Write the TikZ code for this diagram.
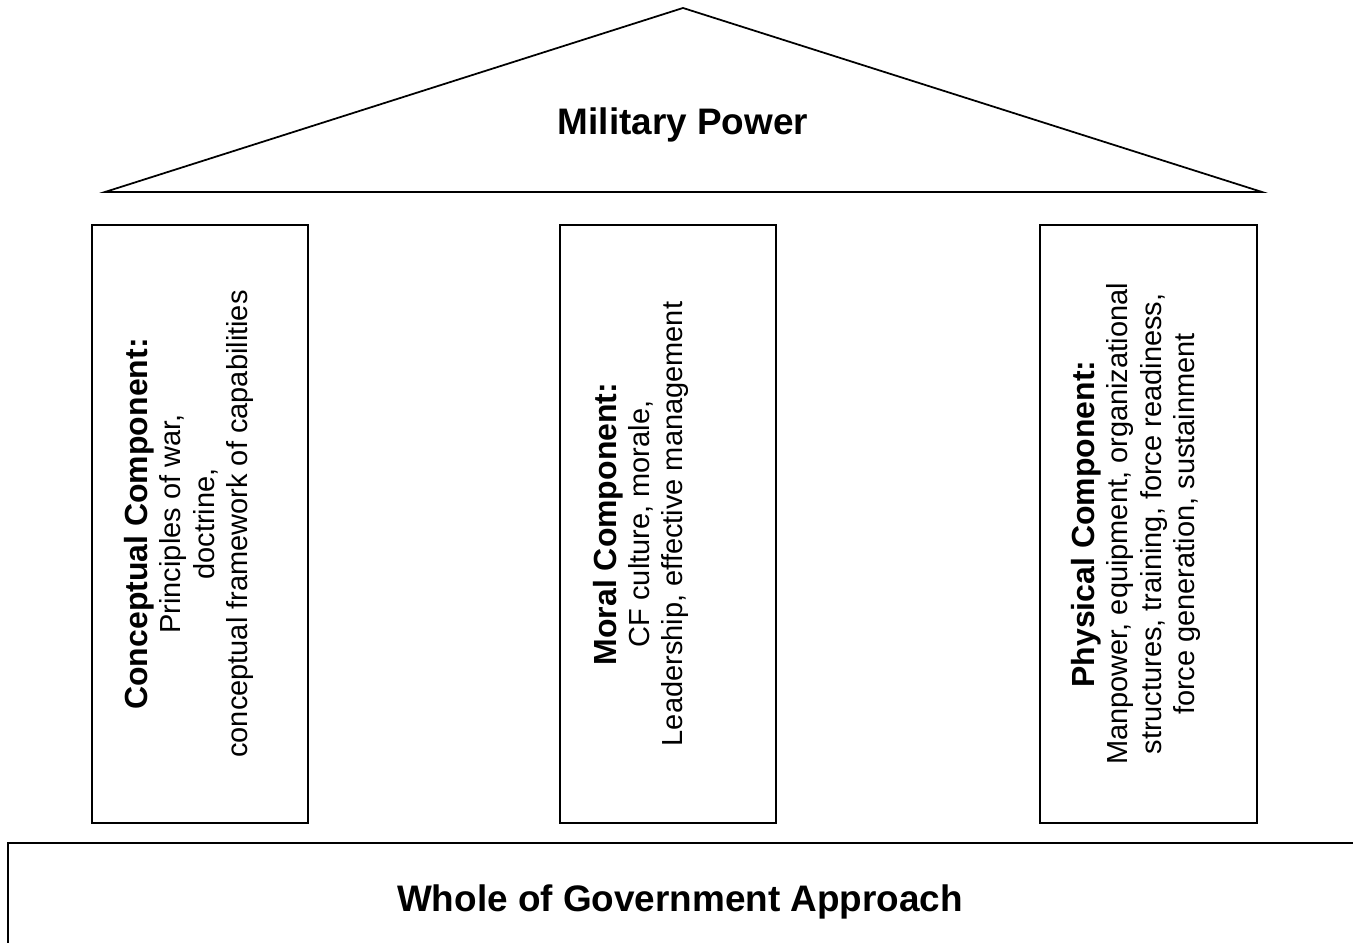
\documentclass[tikz,border=0pt]{standalone}
\usepackage{fontspec}
\setmainfont{Liberation Sans}
\usetikzlibrary{calc,positioning}

\tikzset{
  pillar/.style={draw,line width=1pt,minimum width=4.32cm,minimum height=11.96cm,inner sep=0pt},
  pillartext/.style={rotate=90,align=center,inner sep=0pt,font=\fontsize{16.5}{19}\selectfont},
  titletext/.style={font=\fontsize{21}{25}\selectfont\bfseries,inner sep=0pt,anchor=base}
}
\newcommand{\pillarhead}[1]{{\fontsize{18.2}{19}\selectfont\bfseries #1}}

\begin{document}
\begin{tikzpicture}
\useasboundingbox (0,0) rectangle (27.06,18.86);

% roof
\coordinate (apex) at (13.66,18.70);
\coordinate (eaveL) at (2.10,15.02);
\coordinate (eaveR) at (25.24,15.02);
\draw[line width=1pt,line join=miter] (eaveL) -- (apex) -- (eaveR) -- cycle;
\node[titletext] (roof) at (13.66,16.16) {Military Power};

% pillars
\node[pillar] (concbox) at (4.00,8.38) {};
\node[pillar] (moralbox) at (13.36,8.38) {};
\node[pillar,minimum width=4.34cm] (physbox) at (22.97,8.38) {};

\node[pillartext] (conctext) at ([xshift=-0.22cm]concbox.center)
  {\pillarhead{Conceptual Component:}\\Principles of war,\\doctrine,\\conceptual framework of capabilities};
\node[pillartext] (moraltext) at ([xshift=-0.54cm]moralbox.center)
  {\pillarhead{Moral Component:}\\CF culture, morale,\\Leadership, effective management};
\node[pillartext] (phystext) at ([xshift=-0.25cm]physbox.center)
  {\pillarhead{Physical Component:}\\Manpower, equipment, organizational\\structures, training, force readiness,\\force generation, sustainment};

% base
\draw[line width=1pt] (27.4,2.00) -- (0.16,2.00) -- (0.16,-0.3);
\node[titletext] (base) at (13.60,0.62) {Whole of Government Approach};
\end{tikzpicture}
\end{document}
